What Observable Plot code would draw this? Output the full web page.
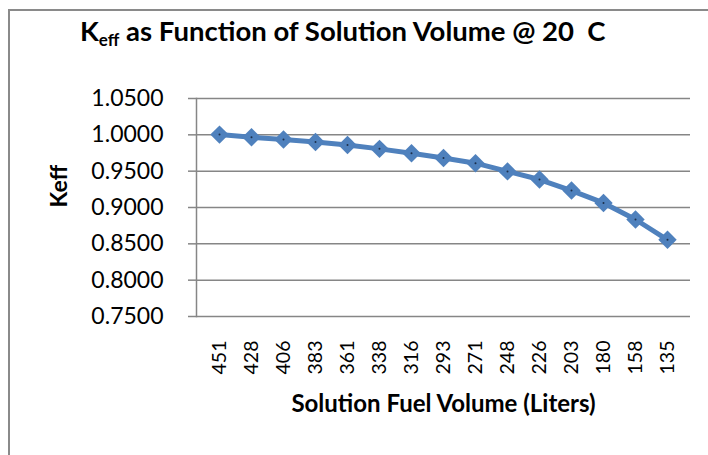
<!DOCTYPE html>
<html>
<head>
<meta charset="utf-8">
<script src="https://cdn.jsdelivr.net/npm/d3@7"></script>
<script src="https://cdn.jsdelivr.net/npm/@observablehq/plot@0.6"></script>
<style>
  html, body { margin: 0; padding: 0; background: #fff; overflow: hidden; width: 708px; height: 455px; }
  #wrap { position: relative; width: 708px; height: 455px; font-family: Lato, "Open Sans", sans-serif; }
  #border { position: absolute; left: 8px; top: 9px; width: 740px; height: 480px; border: 2px solid #8a8a8a; box-sizing: border-box; }
  #title { position: absolute; left: 80px; top: 14px; font-size: 27.5px; font-weight: bold; color: #000; white-space: pre; line-height: 34px; }
  #title sub { font-size: 17px; vertical-align: -5px; line-height: 0; }
  #chart { position: absolute; left: 0; top: 60px; }
</style>
</head>
<body>
<div id="wrap">
  <div id="border"></div>
  <div id="title">K<sub>eff</sub> as Function of Solution Volume @ 20  C</div>
  <div id="chart"></div>
</div>
<script>
const volumes = ["451","428","406","383","361","338","316","293","271","248","226","203","180","158","135"];
const keff = [1.0003, 0.9967, 0.9935, 0.9902, 0.9860, 0.9807, 0.9747, 0.9680, 0.9610, 0.9497, 0.9385, 0.9233, 0.9063, 0.8835, 0.8555];
const yTicks = [0.75, 0.80, 0.85, 0.90, 0.95, 1.00, 1.05];
const xTitle = "Solution Fuel Volume (Liters)";
const yTitle = "Keff";

const data = volumes.map((v, i) => ({volume: v, keff: keff[i]}));
const blue = "#4F81BD";
const gray = "#868686";

const chart = Plot.plot({
  width: 708,
  height: 395,
  marginTop: 38,
  marginBottom: 139,
  marginLeft: 196,
  marginRight: 18,
  style: {fontFamily: "Lato, 'Open Sans', sans-serif", background: "transparent", color: "#000"},
  x: {type: "point", domain: volumes, padding: 0.5},
  y: {domain: [0.75, 1.05]},
  marks: [
    Plot.gridY(yTicks, {stroke: gray, strokeOpacity: 1, strokeWidth: 1.5}),
    Plot.frame({anchor: "left", stroke: gray, strokeWidth: 1.5}),
    Plot.axisY(yTicks, {tickFormat: d3.format(".4f"), tickSize: 8, tickPadding: 25, stroke: gray, strokeWidth: 1.5, fontSize: 23, label: null, fill: "#000"}),
    Plot.axisX({tickSize: 0, tickPadding: 24, tickRotate: -90, fontSize: 19.5, label: null, fill: "#000"}),
    Plot.text([xTitle], {frameAnchor: "bottom", dy: 95, fontSize: 24, fontWeight: "bold", fill: "#000"}),
    Plot.text([yTitle], {frameAnchor: "left", dx: -137, rotate: -90, fontSize: 23, fontWeight: "bold", fill: "#000"}),
    Plot.line(data, {x: "volume", y: "keff", stroke: blue, strokeWidth: 5}),
    Plot.dot(data, {x: "volume", y: "keff", symbol: "diamond2", r: 8.3, fill: blue, stroke: "none"}),
    Plot.dot(data, {x: "volume", y: "keff", r: 1, fill: "#1c2f4a", stroke: "none"})
  ]
});
document.getElementById("chart").appendChild(chart);
</script>
</body>
</html>
